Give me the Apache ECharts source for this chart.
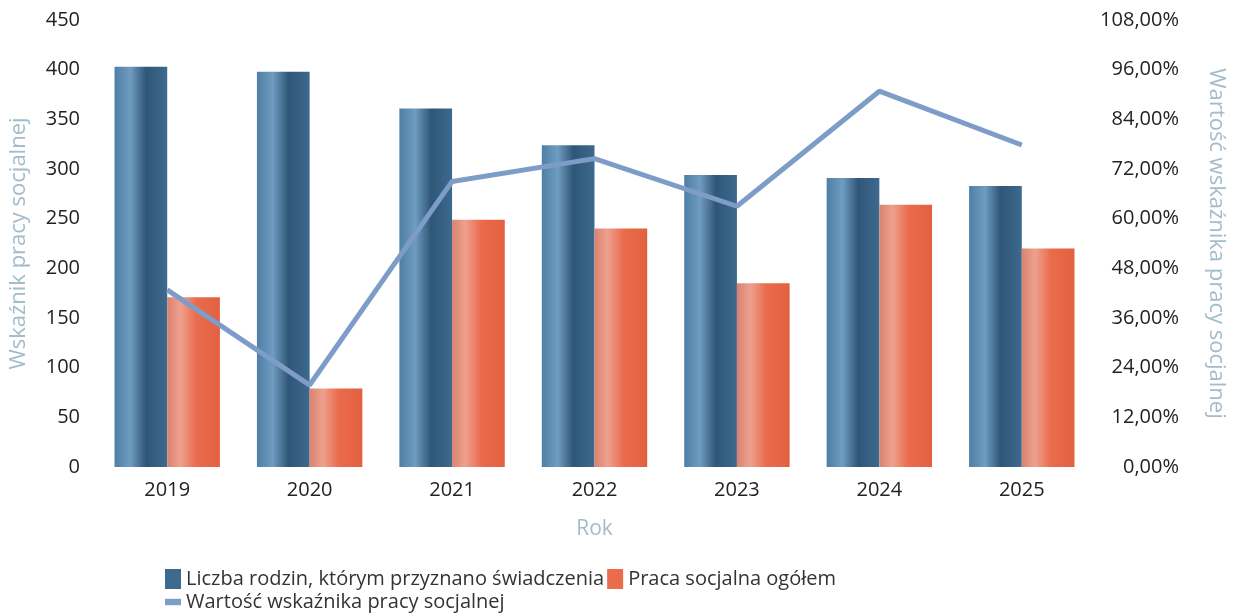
<!DOCTYPE html>
<html>
<head>
<meta charset="utf-8">
<script src="https://cdn.jsdelivr.net/npm/echarts@6/dist/echarts.min.js"></script>
<style>
  html, body { margin: 0; padding: 0; background: #fff; }
  #chart { width: 1235px; height: 615px; }
</style>
</head>
<body>
<div id="chart"></div>
<script>
// dane
const years = ['2019', '2020', '2021', '2022', '2023', '2024', '2025'];
const rodziny = [403, 398, 361, 324, 294, 291, 283];
const pracaSocjalna = [171, 79, 249, 240, 185, 264, 220];
const wskaznik = [0.428, 0.198, 0.69, 0.745, 0.63, 0.908, 0.778];

const font = 'Open Sans';
const nameColor = '#a3bccb';

let chart = echarts.init(document.getElementById('chart'));

const blueGrad = new echarts.graphic.LinearGradient(0, 0, 1, 0, [
  { offset: 0, color: '#4f7fa6' },
  { offset: 0.3, color: '#6f9cc0' },
  { offset: 0.6, color: '#2f5677' },
  { offset: 1, color: '#3d6a8f' }
]);
const redGrad = new echarts.graphic.LinearGradient(0, 0, 1, 0, [
  { offset: 0, color: '#d9836f' },
  { offset: 0.25, color: '#eea08f' },
  { offset: 0.55, color: '#ea6c4d' },
  { offset: 1, color: '#e2603f' }
]);

let option = {
  animation: false,
  textStyle: { fontFamily: font },
  grid: { left: 96, right: 139, top: 20, bottom: 148 },
  legend: {
    left: 160,
    top: 564,
    width: 740,
    itemGap: 3,
    itemWidth: 16,
    itemHeight: 20,
    textStyle: { fontFamily: font, fontSize: 20, color: '#333' },
    data: [
      { name: 'Liczba rodzin, którym przyznano świadczenia', icon: 'rect', itemStyle: { color: '#3d6a8f' } },
      { name: 'Praca socjalna ogółem', icon: 'rect', itemStyle: { color: '#ea6c4d' } },
      { name: 'Wartość wskaźnika pracy socjalnej', icon: 'path://M0,0 L20,0 L20,8 L0,8 Z', itemStyle: { color: '#7d9dc8' } }
    ]
  },
  xAxis: {
    type: 'category',
    data: years,
    name: 'Rok',
    nameLocation: 'middle',
    nameGap: 52,
    nameTextStyle: { color: nameColor, fontSize: 21, fontFamily: font },
    axisLine: { show: false },
    axisTick: { show: false },
    axisLabel: { color: '#222', fontSize: 20, margin: 13 }
  },
  yAxis: [
    {
      type: 'value',
      min: 0,
      max: 450,
      interval: 50,
      name: 'Wskaźnik pracy socjalnej',
      nameLocation: 'middle',
      nameGap: 66,
      nameTextStyle: { color: nameColor, fontSize: 22, fontFamily: font },
      splitLine: { show: false },
      axisLine: { show: false },
      axisTick: { show: false },
      axisLabel: { color: '#222', fontSize: 20, margin: 16 }
    },
    {
      type: 'value',
      min: 0,
      max: 1.08,
      interval: 0.12,
      name: 'Wartość wskaźnika pracy socjalnej',
      nameLocation: 'middle',
      nameGap: 112,
      nameRotate: -90,
      nameTextStyle: { color: nameColor, fontSize: 22, fontFamily: font },
      splitLine: { show: false },
      axisLine: { show: false },
      axisTick: { show: false },
      axisLabel: {
        color: '#222',
        fontSize: 20,
        align: 'right',
        margin: 86,
        formatter: v => (v * 100).toFixed(2).replace('.', ',') + '%'
      }
    }
  ],
  series: [
    {
      name: 'Liczba rodzin, którym przyznano świadczenia',
      type: 'bar',
      data: rodziny,
      barGap: '0%',
      barCategoryGap: '26%',
      itemStyle: { color: blueGrad }
    },
    {
      name: 'Praca socjalna ogółem',
      type: 'bar',
      data: pracaSocjalna,
      itemStyle: { color: redGrad }
    },
    {
      name: 'Wartość wskaźnika pracy socjalnej',
      type: 'line',
      yAxisIndex: 1,
      data: wskaznik,
      symbol: 'none',
      lineStyle: { width: 5, color: '#7d9dc8' },
      itemStyle: { color: '#7d9dc8' }
    }
  ]
};

chart.setOption(option);
</script>
</body>
</html>
